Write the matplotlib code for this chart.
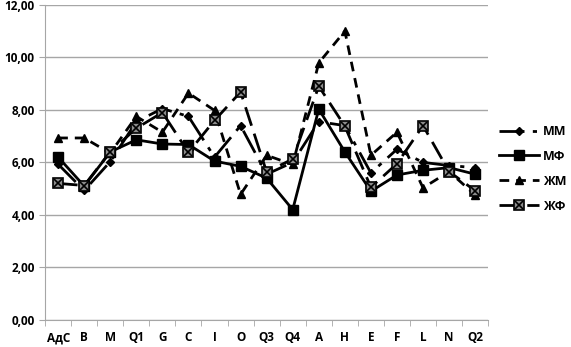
import matplotlib
matplotlib.use("Agg")
import matplotlib.pyplot as plt
from matplotlib.ticker import FixedLocator, FuncFormatter

categories = ["АдС", "B", "M", "Q1", "G", "C", "I", "O", "Q3", "Q4", "A", "H", "E", "F", "L", "N", "Q2"]
mm = [5.93, 4.93, 6.03, 7.55, 8.05, 7.75, 6.2, 7.4, 5.55, 6.0, 7.55, 7.4, 5.6, 6.5, 6.0, 5.88, 5.8]
mf = [6.2, 5.1, 6.4, 6.86, 6.7, 6.68, 6.05, 5.85, 5.4, 4.2, 8.03, 6.4, 4.9, 5.52, 5.7, 5.8, 5.55]
zm = [6.93, 6.93, 6.35, 7.75, 7.15, 8.64, 7.98, 4.78, 6.27, 5.92, 9.79, 11.0, 6.27, 7.15, 5.03, 5.65, 4.76]
zf = [5.2, 5.12, 6.4, 7.3, 7.9, 6.38, 7.6, 8.68, 5.63, 6.13, 8.9, 7.38, 5.05, 5.95, 7.4, 5.65, 4.92]

plt.rcParams['font.family'] = ['Open Sans', 'DejaVu Sans']
fig = plt.figure(figsize=(5.71, 3.47), dpi=100)
ax = fig.add_axes([0.079, 0.078, 0.776, 0.908])

x = list(range(len(categories)))
l1, = ax.plot(x, mm, color='black', lw=2, dashes=(9, 3, 1.5, 3), marker='D', ms=4.5, label='ММ')
l2, = ax.plot(x, mf, color='black', lw=2, linestyle='-', marker='s', ms=6.5, label='МФ')
l3, = ax.plot(x, zm, color='black', lw=2, dashes=(3.5, 2.5), marker='^', ms=5.5, label='ЖМ')
l4, = ax.plot(x, zf, color='black', lw=2, dashes=(7, 3), marker='s', ms=7.5,
              markerfacecolor='#8c8c8c', markeredgecolor='black', markeredgewidth=1.2, label='ЖФ')
l4x, = ax.plot(x, zf, color='black', lw=0, marker='x', ms=6, markeredgewidth=1.2)

ax.set_xlim(-0.5, len(categories) - 0.5)
ax.set_ylim(0, 12)
ax.set_yticks([0, 2, 4, 6, 8, 10, 12])
ax.yaxis.set_major_formatter(FuncFormatter(lambda v, p: f"{v:.2f}".replace('.', ',')))
ax.grid(axis='y', color='#a6a6a6', lw=1)
ax.set_axisbelow(True)
for s in ['top', 'right']:
    ax.spines[s].set_visible(False)
ax.spines['left'].set_color('#a6a6a6')
ax.spines['bottom'].set_color('#a6a6a6')
ax.set_xticks(x)
ax.set_xticklabels(categories, fontsize=8.5, fontweight='bold')
ax.tick_params(axis='x', length=0, pad=8)
ax.xaxis.set_minor_locator(FixedLocator([i - 0.5 for i in range(len(categories) + 1)]))
ax.tick_params(axis='x', which='minor', length=4, color='#a6a6a6')
ax.tick_params(axis='y', length=4, color='#a6a6a6', labelsize=8.5)
for t in ax.get_yticklabels():
    t.set_fontweight('bold')

leg = ax.legend([l1, l2, l3, (l4, l4x)], ['ММ', 'МФ', 'ЖМ', 'ЖФ'],
                loc='center left', bbox_to_anchor=(1.0, 0.48), frameon=False,
                prop={'size': 9, 'weight': 'bold'}, handlelength=3.2, labelspacing=0.95,
                handletextpad=0.3)

fig.savefig('out.png', dpi=100)
